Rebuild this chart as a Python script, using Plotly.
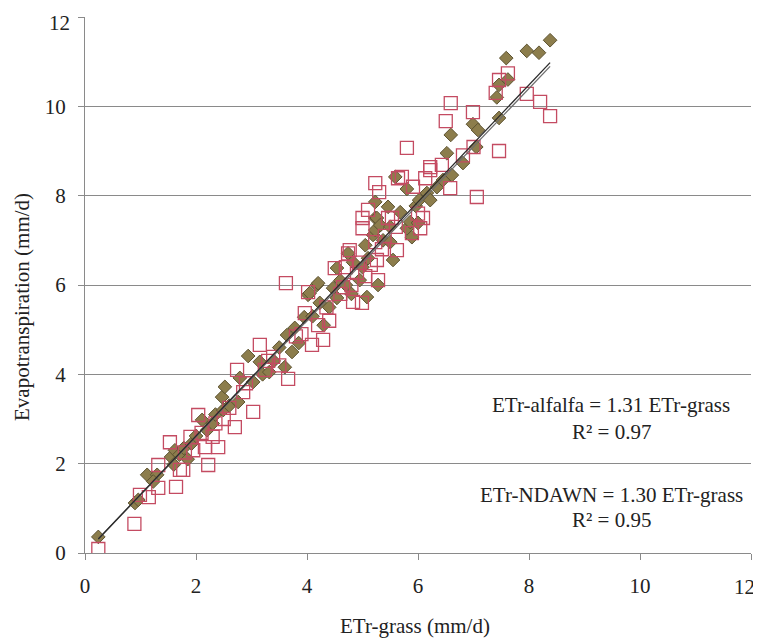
import plotly.graph_objects as go

# ETr-alfalfa vs ETr-grass (diamonds)
alfalfa_x = [0.24, 0.9, 0.96, 1.12, 1.3, 1.23, 1.55, 1.62, 1.7, 1.78, 1.85, 1.92, 1.6, 2.0, 2.11, 2.2, 2.3, 2.35,
             2.47, 2.49, 2.52, 2.6, 2.76, 2.79, 2.94, 3.03, 3.15, 3.2, 3.32, 3.4, 3.5, 3.6, 3.64, 3.73, 3.78, 3.85,
             3.95, 4.02, 4.05, 4.1, 4.18, 4.2, 4.23, 4.3, 4.4, 4.47, 4.54, 4.54, 4.6, 4.74, 4.83, 4.7, 4.8, 4.95,
             5.05, 5.08, 5.0, 5.1, 5.19, 5.23, 5.23, 5.23, 5.28, 5.26, 5.32, 5.37, 5.46, 5.5, 5.5, 5.55, 5.59, 5.68,
             5.8, 5.8, 5.86, 5.89, 5.96, 6.0, 6.02, 6.16, 6.22, 6.34, 6.45, 6.52, 6.59, 6.61, 6.81, 6.99, 7.05, 7.08,
             7.46, 7.42, 7.46, 7.59, 7.62, 7.96, 8.18, 8.38]
alfalfa_y = [0.36, 1.12, 1.19, 1.75, 1.75, 1.6, 2.15, 2.3, 2.2, 2.35, 2.1, 2.45, 1.98, 2.62, 2.98, 2.75, 2.9, 3.1,
             3.49, 3.2, 3.72, 3.3, 3.38, 3.92, 4.41, 3.83, 4.28, 4.0, 4.05, 4.3, 4.6, 4.16, 4.88, 4.5, 5.04, 4.7,
             5.28, 5.78, 5.82, 5.3, 6.0, 6.04, 5.6, 5.1, 5.5, 5.93, 6.38, 5.71, 6.1, 6.71, 6.51, 6.0, 5.8, 6.11,
             6.89, 5.73, 6.4, 6.6, 7.12, 7.86, 7.5, 7.23, 6.0, 7.5, 7.34, 7.0, 7.75, 6.96, 7.3, 6.56, 8.42, 7.63,
             8.15, 7.27, 7.41, 7.07, 7.77, 7.39, 7.9, 8.06, 7.9, 8.19, 8.35, 8.95, 9.36, 8.46, 8.73, 9.6, 9.09, 9.47,
             9.74, 10.2, 10.48, 11.08, 10.6, 11.24, 11.2, 11.48]

# ETr-NDAWN vs ETr-grass (open squares)
ndawn_x = [0.24, 0.89, 0.99, 1.15, 1.32, 1.32, 1.64, 1.71, 1.77, 2.22, 1.53, 2.04, 2.16, 2.4, 2.1, 1.8, 1.95, 2.3,
           2.5, 2.6, 2.7, 2.74, 3.03, 3.15, 3.24, 3.39, 3.5, 3.66, 3.62, 3.9, 3.96, 4.02, 4.09, 4.29, 4.2, 4.35,
           4.5, 4.6, 4.74, 4.83, 4.9, 4.99, 5.0, 5.0, 5.1, 5.05, 5.15, 5.23, 5.23, 5.26, 5.28, 5.3, 5.35, 5.46,
           5.53, 5.62, 5.64, 5.71, 5.8, 5.89, 5.91, 6.04, 6.09, 6.13, 6.22, 6.22, 6.43, 6.5, 6.58, 6.59, 6.81,
           6.99, 7.0, 7.06, 7.4, 7.46, 7.46, 7.62, 7.96, 8.2, 8.38, 6.0, 4.4, 4.7, 4.8, 4.95, 5.4, 5.6, 4.65,
           3.8, 3.3, 2.9, 2.85, 2.35, 1.9, 4.77]
ndawn_y = [0.09, 0.65, 1.3, 1.25, 1.97, 1.46, 1.48, 1.86, 1.86, 1.97, 2.48, 3.09, 2.37, 2.37, 2.69, 2.25, 2.3, 2.6,
           3.0, 3.25, 2.82, 4.1, 3.16, 4.66, 4.1, 4.39, 4.2, 3.9, 6.04, 4.9, 5.37, 5.84, 4.66, 4.77, 5.1, 5.5,
           6.38, 5.8, 6.71, 5.62, 6.27, 5.6, 7.27, 7.5, 7.68, 6.2, 6.45, 6.96, 8.28, 6.56, 6.11, 8.08, 6.8, 7.5,
           7.5, 6.78, 8.39, 8.42, 9.07, 7.16, 8.2, 7.27, 7.5, 8.39, 8.57, 8.64, 8.69, 9.67, 8.17, 10.07, 8.9,
           9.87, 9.09, 7.97, 10.3, 10.59, 9.0, 10.74, 10.28, 10.1, 9.78, 7.6, 5.2, 6.4, 6.0, 6.5, 7.1, 7.3, 5.95,
           4.85, 4.3, 3.8, 3.6, 2.9, 2.6, 6.78]

slope_alfalfa = 1.31
slope_ndawn = 1.30
r2_alfalfa = 0.97
r2_ndawn = 0.95

x_ticks = [0, 2, 4, 6, 8, 10, 12]
x_tick_labels = ["0", "2", "4", "6", "8", "10", "12"]
y_ticks = [0, 2, 4, 6, 8, 10, 12]
y_tick_labels = ["0", "2", "4", "6", "8", "10", "12"]

font_family = "Liberation Serif, Times New Roman, serif"
text_color = "#222222"
axis_gray = "#8A8A8A"
tick_font = dict(family=font_family, size=21, color=text_color)

fig = go.Figure()

fig.add_trace(go.Scatter(
    x=alfalfa_x, y=alfalfa_y, mode="markers", name="ETr-alfalfa",
    marker=dict(symbol="diamond", size=10.5, color="#8C7D4C",
                line=dict(color="#5E5432", width=1)),
))
fig.add_trace(go.Scatter(
    x=ndawn_x, y=ndawn_y, mode="markers", name="ETr-NDAWN",
    marker=dict(symbol="square-open", size=13, color="#C44B62",
                line=dict(color="#C44B62", width=1.3)),
))

# trend lines through origin over the data range
ax0, ax1 = min(alfalfa_x), max(alfalfa_x)
nx0, nx1 = min(ndawn_x), max(ndawn_x)
fig.add_trace(go.Scatter(
    x=[nx0, nx1], y=[slope_ndawn * nx0, slope_ndawn * nx1], mode="lines",
    line=dict(color="#6E6E6E", width=1.3), hoverinfo="skip",
))
fig.add_trace(go.Scatter(
    x=[ax0, ax1], y=[slope_alfalfa * ax0, slope_alfalfa * ax1], mode="lines",
    line=dict(color="#2A2A2A", width=1.3), hoverinfo="skip",
))

ann_font = dict(family=font_family, size=21, color=text_color)
annotations = [
    dict(x=9.48, y=3.31, text=f"ETr-alfalfa = {slope_alfalfa:.2f} ETr-grass"),
    dict(x=9.48, y=2.71, text=f"R² = {r2_alfalfa:.2f}"),
    dict(x=9.48, y=1.30, text=f"ETr-NDAWN = {slope_ndawn:.2f} ETr-grass"),
    dict(x=9.48, y=0.74, text=f"R² = {r2_ndawn:.2f}"),
]
for a in annotations:
    a.update(xref="x", yref="y", showarrow=False, font=ann_font, xanchor="center", yanchor="middle")

# end tick labels, nudged so they stay inside the page (as in the reference)
annotations.append(dict(x=1.0, y=-0.0634, xref="paper", yref="paper", text=x_tick_labels[-1],
                        showarrow=False, font=tick_font, xanchor="right", yanchor="middle", xshift=6))
annotations.append(dict(x=0.0, y=1.0, xref="paper", yref="paper", text=y_tick_labels[-1],
                        showarrow=False, font=tick_font, xanchor="right", yanchor="top",
                        xshift=-13, yshift=8))

# axis titles (paper coordinates)
annotations.append(dict(x=0.4955, y=-0.136, xref="paper", yref="paper", text="ETr-grass (mm/d)",
                        showarrow=False, font=dict(family=font_family, size=21, color=text_color),
                        xanchor="center", yanchor="middle"))
annotations.append(dict(x=-0.0946, y=0.459, xref="paper", yref="paper", text="Evapotranspiration (mm/d)",
                        showarrow=False, textangle=-90,
                        font=dict(family=font_family, size=21, color=text_color),
                        xanchor="center", yanchor="middle"))

fig.update_layout(
    width=753, height=630,
    margin=dict(l=77, r=10, t=9, b=85, autoexpand=False),
    paper_bgcolor="white", plot_bgcolor="white",
    showlegend=False,
    font=dict(family=font_family, size=21, color=text_color),
    annotations=annotations,
)
fig.update_xaxes(
    range=[0, 12], tickvals=x_ticks, ticktext=x_tick_labels[:-1] + [""],
    showgrid=False, zeroline=False, showline=True, linecolor=axis_gray, linewidth=1,
    ticks="outside", ticklen=6, tickcolor=axis_gray, ticklabelstandoff=8,
    ticklabeloverflow="allow", automargin=False, tickfont=tick_font,
)
fig.update_yaxes(
    range=[0, 12], tickvals=y_ticks, ticktext=y_tick_labels[:-1] + [""],
    showgrid=True, gridcolor=axis_gray, gridwidth=1, zeroline=False,
    showline=True, linecolor=axis_gray, linewidth=1,
    ticks="outside", ticklen=6, tickcolor=axis_gray, ticklabelstandoff=8,
    ticklabeloverflow="allow", automargin=False, tickfont=tick_font,
)

fig.write_html("out.html")
